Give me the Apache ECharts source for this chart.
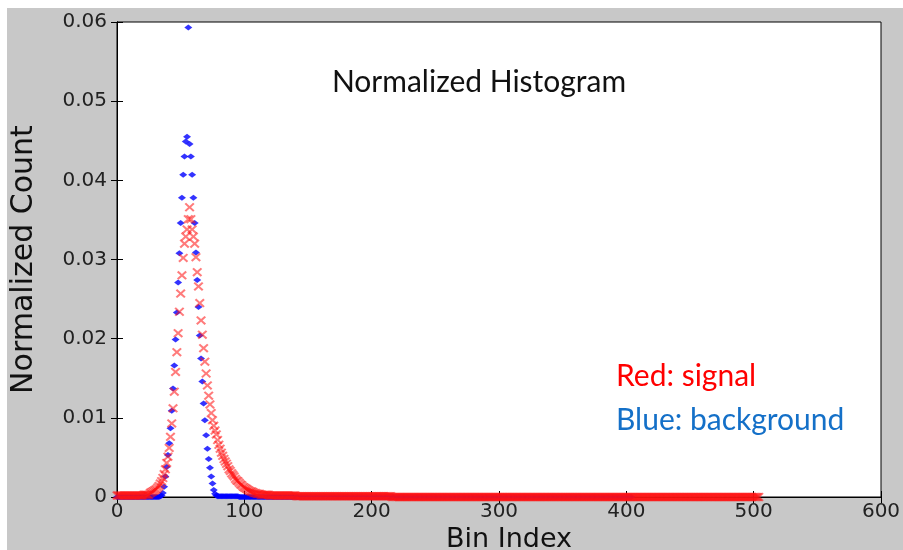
<!DOCTYPE html>
<html>
<head>
<meta charset="utf-8">
<script src="https://cdn.jsdelivr.net/npm/echarts@6/dist/echarts.min.js"></script>
<style>
html, body { margin: 0; padding: 0; background: #fff; }
#chart { position: absolute; left: 7px; top: 8px; width: 896px; height: 542px; }
</style>
</head>
<body>
<div id="chart"></div>
<script>
// histogram bins 0..500, one value per bin
var xTicks = [0, 100, 200, 300, 400, 500, 600]
var yTicks = [0, 0.01, 0.02, 0.03, 0.04, 0.05, 0.06]

// red: signal
var signal = [
  0.0002, 0.0002, 0.0002, 0.0002, 0.0002, 0.0002, 0.0002, 0.0002, 0.0002, 0.0002,
  0.0002, 0.0002, 0.0002, 0.0002, 0.0002, 0.0002, 0.0002, 0.0002, 0.0002, 0.0002,
  0.0002, 0.0003, 0.0003, 0.0003, 0.0003, 0.0003, 0.0005, 0.0006, 0.0007, 0.0008,
  0.0009, 0.0010, 0.0012, 0.0014, 0.0017, 0.0020, 0.0024, 0.0029, 0.0035, 0.0043,
  0.0051, 0.0062, 0.0076, 0.0093, 0.0112, 0.0133, 0.0158, 0.0183, 0.0207, 0.0234,
  0.0257, 0.0280, 0.0302, 0.0320, 0.0329, 0.0338, 0.0351, 0.0366, 0.0351, 0.0338,
  0.0329, 0.0320, 0.0303, 0.0284, 0.0266, 0.0245, 0.0223, 0.0205, 0.0188, 0.0171,
  0.0156, 0.0141, 0.0128, 0.0117, 0.0106, 0.0097, 0.0090, 0.0084, 0.0079, 0.0072,
  0.0066, 0.0061, 0.0056, 0.0052, 0.0048, 0.0045, 0.0042, 0.0039, 0.0035, 0.0033,
  0.0030, 0.0028, 0.0026, 0.0023, 0.0021, 0.0020, 0.0018, 0.0016, 0.0015, 0.0013,
  0.0012, 0.0011, 0.0010, 0.0009, 0.0008, 0.0007, 0.0007, 0.0006, 0.0005, 0.0005,
  0.0004, 0.0004, 0.0004, 0.0003, 0.0003, 0.0003, 0.0003, 0.0003, 0.0003, 0.0003,
  0.0002, 0.0002, 0.0002, 0.0002, 0.0002, 0.0002, 0.0002, 0.0002, 0.0002, 0.0002,
  0.0002, 0.0002, 0.0002, 0.0002, 0.0002, 0.0002, 0.0002, 0.0002, 0.0002, 0.0002,
  0.0002, 0.0001, 0.0001, 0.0001, 0.0001, 0.0001, 0.0001, 0.0001, 0.0001, 0.0001,
  0.0001, 0.0001, 0.0001, 0.0001, 0.0001, 0.0001, 0.0001, 0.0001, 0.0001, 0.0001,
  0.0001, 0.0001, 0.0001, 0.0001, 0.0001, 0.0001, 0.0001, 0.0001, 0.0001, 0.0001,
  0.0001, 0.0001, 0.0001, 0.0001, 0.0001, 0.0001, 0.0001, 0.0001, 0.0001, 0.0001,
  0.0001, 0.0001, 0.0001, 0.0001, 0.0001, 0.0001, 0.0001, 0.0001, 0.0001, 0.0001,
  0.0001, 0.0001, 0.0001, 0.0001, 0.0001, 0.0001, 0.0001, 0.0001, 0.0001, 0.0001,
  0.0001, 0.0001, 0.0001, 0.0001, 0.0001, 0.0001, 0.0001, 0.0001, 0.0001, 0.0001,
  0.0001, 0.0001, 0.0001, 0.0001, 0.0001, 0.0001, 0, 0, 0, 0,
  0, 0, 0, 0, 0, 0, 0, 0, 0, 0, 0, 0, 0, 0, 0, 0, 0, 0, 0, 0,
  0, 0, 0, 0, 0, 0, 0, 0, 0, 0, 0, 0, 0, 0, 0, 0, 0, 0, 0, 0,
  0, 0, 0, 0, 0, 0, 0, 0, 0, 0, 0, 0, 0, 0, 0, 0, 0, 0, 0, 0,
  0, 0, 0, 0, 0, 0, 0, 0, 0, 0, 0, 0, 0, 0, 0, 0, 0, 0, 0, 0,
  0, 0, 0, 0, 0, 0, 0, 0, 0, 0, 0, 0, 0, 0, 0, 0, 0, 0, 0, 0,
  0, 0, 0, 0, 0, 0, 0, 0, 0, 0, 0, 0, 0, 0, 0, 0, 0, 0, 0, 0,
  0, 0, 0, 0, 0, 0, 0, 0, 0, 0, 0, 0, 0, 0, 0, 0, 0, 0, 0, 0,
  0, 0, 0, 0, 0, 0, 0, 0, 0, 0, 0, 0, 0, 0, 0, 0, 0, 0, 0, 0,
  0, 0, 0, 0, 0, 0, 0, 0, 0, 0, 0, 0, 0, 0, 0, 0, 0, 0, 0, 0,
  0, 0, 0, 0, 0, 0, 0, 0, 0, 0, 0, 0, 0, 0, 0, 0, 0, 0, 0, 0,
  0, 0, 0, 0, 0, 0, 0, 0, 0, 0, 0, 0, 0, 0, 0, 0, 0, 0, 0, 0,
  0, 0, 0, 0, 0, 0, 0, 0, 0, 0, 0, 0, 0, 0, 0, 0, 0, 0, 0, 0,
  0, 0, 0, 0, 0, 0, 0, 0, 0, 0, 0, 0, 0, 0, 0, 0, 0, 0, 0, 0,
  0, 0, 0, 0, 0, 0, 0, 0, 0, 0, 0, 0, 0, 0, 0, 0, 0, 0, 0, 0,
  0, 0, 0, 0, 0
]

// blue: background
var background = [
  0, 0, 0, 0, 0, 0, 0, 0, 0, 0, 0, 0, 0, 0, 0, 0, 0, 0, 0, 0,
  0, 0, 0, 0, 0, 0, 0, 0, 0, 0, 0, 0, 0, 0, 0.0001, 0.0002, 0.0005, 0.0013, 0.0026, 0.0038,
  0.0053, 0.0068, 0.0087, 0.0109, 0.0137, 0.0166, 0.0199, 0.0233, 0.0271, 0.0308,
  0.0346, 0.0378, 0.0407, 0.0430, 0.0449, 0.0455, 0.0593, 0.0446, 0.0430, 0.0407,
  0.0378, 0.0346, 0.0309, 0.0274, 0.0240, 0.0204, 0.0175, 0.0146, 0.0118, 0.0097,
  0.0078, 0.0061, 0.0048, 0.0037, 0.0026, 0.0017, 0.0009, 0.0004, 0.0002, 0.0001,
  0.0001, 0.0001, 0.0001, 0.0001, 0.0001, 0.0001, 0.0001, 0.0001, 0.0001, 0.0001,
  0.0001, 0.0001, 0.0001, 0.0001, 0.0001, 0.0001, 0, 0, 0, 0,
  0, 0, 0, 0, 0, 0, 0, 0, 0, 0, 0, 0, 0, 0, 0, 0, 0, 0, 0, 0,
  0, 0, 0, 0, 0, 0, 0, 0, 0, 0, 0, 0, 0, 0, 0, 0, 0, 0, 0, 0,
  0, 0, 0, 0, 0, 0, 0, 0, 0, 0, 0, 0, 0, 0, 0, 0, 0, 0, 0, 0,
  0, 0, 0, 0, 0, 0, 0, 0, 0, 0, 0, 0, 0, 0, 0, 0, 0, 0, 0, 0,
  0, 0, 0, 0, 0, 0, 0, 0, 0, 0, 0, 0, 0, 0, 0, 0, 0, 0, 0, 0,
  0, 0, 0, 0, 0, 0, 0, 0, 0, 0, 0, 0, 0, 0, 0, 0, 0, 0, 0, 0,
  0, 0, 0, 0, 0, 0, 0, 0, 0, 0, 0, 0, 0, 0, 0, 0, 0, 0, 0, 0,
  0, 0, 0, 0, 0, 0, 0, 0, 0, 0, 0, 0, 0, 0, 0, 0, 0, 0, 0, 0,
  0, 0, 0, 0, 0, 0, 0, 0, 0, 0, 0, 0, 0, 0, 0, 0, 0, 0, 0, 0,
  0, 0, 0, 0, 0, 0, 0, 0, 0, 0, 0, 0, 0, 0, 0, 0, 0, 0, 0, 0,
  0, 0, 0, 0, 0, 0, 0, 0, 0, 0, 0, 0, 0, 0, 0, 0, 0, 0, 0, 0,
  0, 0, 0, 0, 0, 0, 0, 0, 0, 0, 0, 0, 0, 0, 0, 0, 0, 0, 0, 0,
  0, 0, 0, 0, 0, 0, 0, 0, 0, 0, 0, 0, 0, 0, 0, 0, 0, 0, 0, 0,
  0, 0, 0, 0, 0, 0, 0, 0, 0, 0, 0, 0, 0, 0, 0, 0, 0, 0, 0, 0,
  0, 0, 0, 0, 0, 0, 0, 0, 0, 0, 0, 0, 0, 0, 0, 0, 0, 0, 0, 0,
  0, 0, 0, 0, 0
]

function toPairs(arr) {
  var out = []
  for (var i = 0; i < arr.length; i++) {
    out.push([i, arr[i]])
  }
  return out
}

var tickFont = { fontFamily: 'DejaVu Sans', fontSize: 20, color: '#222' }
// filled "x" marker
var crossPath = 'path://M1.5,0 L5,3.5 L8.5,0 L10,1.5 L6.5,5 L10,8.5 L8.5,10 L5,6.5 L1.5,10 L0,8.5 L3.5,5 L0,1.5 Z'

var myChart = echarts.init(document.getElementById('chart'))
var option = {
  backgroundColor: '#c8c8c8',
  animation: false,
  grid: {
    left: 110,
    top: 14,
    right: 22,
    bottom: 53,
    outerBoundsMode: 'none',
    containLabel: false,
    show: true,
    backgroundColor: '#fff',
    borderColor: '#000',
    borderWidth: 1
  },
  xAxis: [
    {
      type: 'value',
      min: xTicks[0],
      max: xTicks[xTicks.length - 1],
      interval: 100,
      name: 'Bin Index',
      nameLocation: 'middle',
      nameGap: 26,
      nameTextStyle: { fontFamily: 'DejaVu Sans', fontSize: 27, color: '#111', padding: [0, 0, 0, 20] },
      axisLine: { lineStyle: { color: '#000' } },
      axisTick: { inside: true, length: 6, lineStyle: { color: '#000' } },
      axisLabel: Object.assign({ margin: 5 }, tickFont),
      splitLine: { show: false }
    },
    {
      type: 'value',
      position: 'top',
      min: xTicks[0],
      max: xTicks[xTicks.length - 1],
      interval: 100,
      axisLine: { lineStyle: { color: '#000' } },
      axisTick: { inside: true, length: 6, lineStyle: { color: '#000' } },
      axisLabel: { show: false },
      splitLine: { show: false }
    }
  ],
  yAxis: [
    {
      type: 'value',
      min: yTicks[0],
      max: yTicks[yTicks.length - 1],
      interval: 0.01,
      name: 'Normalized Count',
      nameLocation: 'middle',
      nameGap: 78,
      nameTextStyle: { fontFamily: 'DejaVu Sans', fontSize: 30, color: '#111' },
      axisLine: { lineStyle: { color: '#000' } },
      axisTick: { inside: true, length: 6, lineStyle: { color: '#000' } },
      axisLabel: Object.assign({ margin: 10 }, tickFont),
      splitLine: { show: false }
    },
    {
      type: 'value',
      position: 'right',
      min: yTicks[0],
      max: yTicks[yTicks.length - 1],
      interval: 0.01,
      axisLine: { lineStyle: { color: '#000' } },
      axisTick: { inside: true, length: 6, lineStyle: { color: '#000' } },
      axisLabel: { show: false },
      splitLine: { show: false }
    }
  ],
  graphic: [
    {
      type: 'text',
      x: 472,
      y: 74,
      style: {
        text: 'Normalized Histogram',
        fontFamily: 'Lato',
        fontSize: 30,
        fill: '#111',
        textAlign: 'center',
        textVerticalAlign: 'middle'
      }
    },
    {
      type: 'text',
      x: 609,
      y: 368,
      style: {
        text: 'Red: signal',
        fontFamily: 'Lato',
        fontSize: 30,
        fill: '#ff0000',
        textVerticalAlign: 'middle'
      }
    },
    {
      type: 'text',
      x: 609,
      y: 412,
      style: {
        text: 'Blue: background',
        fontFamily: 'Lato',
        fontSize: 30,
        fill: '#1470c8',
        textVerticalAlign: 'middle'
      }
    }
  ],
  series: [
    {
      name: 'background',
      type: 'scatter',
      data: toPairs(background),
      symbol: 'diamond',
      symbolSize: [8, 6],
      itemStyle: { color: '#0000ff' },
      z: 2
    },
    {
      name: 'signal',
      type: 'scatter',
      data: toPairs(signal),
      symbol: crossPath,
      symbolSize: [10, 9],
      itemStyle: { color: 'rgba(255, 20, 20, 0.7)' },
      z: 3
    }
  ]
}
myChart.setOption(option)
</script>
</body>
</html>
